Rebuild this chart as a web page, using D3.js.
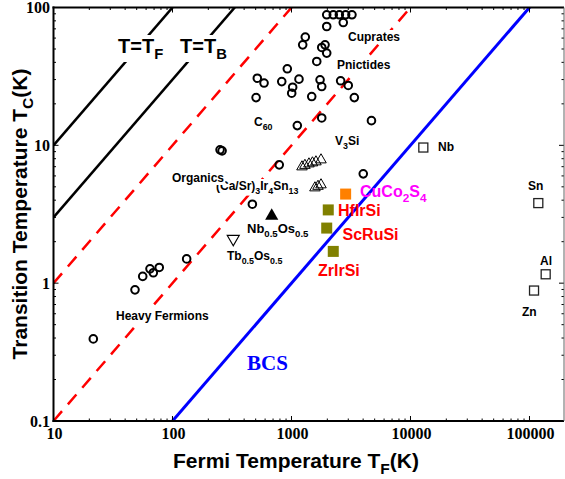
<!DOCTYPE html>
<html>
<head>
<meta charset="utf-8">
<title>Uemura plot</title>
<script src="https://cdnjs.cloudflare.com/ajax/libs/d3/7.8.5/d3.min.js"></script>
<style>
  body { margin: 0; background: #fff; }
  svg { display: block; }
  .lbl { font-family: "Liberation Sans", Arial, sans-serif; font-weight: bold; }
  .num { font-family: "Liberation Serif", "Times New Roman", serif; font-weight: bold; font-size: 16px; }
</style>
</head>
<body>
<svg id="chart" width="565" height="479"></svg>
<script>
// [T_F (K), T_c (K)]
var openCircles = [
  [1977, 88.5], [2244, 88.5], [2524, 88.5], [2851, 88.5], [3221, 88.5],
  [2723, 77.8], [1977, 72.8], [1306, 61], [1242, 53.6], [1914, 53.6],
  [1795, 51.3], [1977, 46.7], [1630, 40.6], [922, 35.9], [516, 30.7],
  [588, 28.3], [828, 29], [1156, 30.2], [1023, 26.4], [1004, 23.9],
  [1738, 29.9], [1795, 26.7], [2588, 29.4], [2999, 27.2], [1479, 22.6],
  [504, 22.2], [3373, 22.2], [1795, 15.8], [1119, 13.9], [4699, 15.1],
  [251, 9.28], [261, 9.12], [789, 7.22], [4009, 6.21], [469, 3.74],
  [131.5, 1.5], [77.4, 1.3], [69, 1.19], [64.7, 1.27], [56.2, 1.12],
  [48.4, 0.894], [21.6, 0.394]
];
var openTriangles = [
  [1225, 7.10], [1297, 7.28], [1402, 7.46], [1500, 7.59], [1605, 7.72], [1770, 7.98],
  [1574, 5.00], [1670, 5.13], [1770, 5.26]
];
var nbOs = [[682, 3.13]];
var tbOs = [[324, 2.06]];
var cuCo2S4 = [[2851, 4.43]];
var silicides = [[2037, 3.40], [1977, 2.51], [2244, 1.70]];
var elements = [[12820, 9.64], [118600, 3.81], [136800, 1.16], [109200, 0.884]];

// T_c / T_F ratios of the guide lines
var lineT_F = 1, lineT_B = 0.3, dashRatios = [0.1, 0.01], bcsRatio = 0.001;

var xTicks = [10, 100, 1000, 10000, 100000];
var yTicks = [0.1, 1, 10, 100];

var svg = d3.select('#chart');
var L = 53.5, R = 564, T = 7.5, B = 421;

var x = d3.scaleLog().domain([10, 195000]).range([L, R]);
var y = d3.scaleLog().domain([0.1, 100]).range([B, T]);

svg.append('clipPath').attr('id', 'clip')
  .append('rect').attr('x', L).attr('y', T).attr('width', R - L).attr('height', B - T);

var plot = svg.append('g').attr('clip-path', 'url(#clip)');

function guide(k, color, width, dash) {
  var d = x.domain();
  plot.append('line')
    .attr('x1', x(d[0])).attr('y1', y(d[0] * k))
    .attr('x2', x(d[1])).attr('y2', y(d[1] * k))
    .attr('stroke', color).attr('stroke-width', width)
    .attr('stroke-dasharray', dash || null);
}
guide(lineT_F, '#000', 2.5);
guide(lineT_B, '#000', 2.5);
dashRatios.forEach(function(k) { guide(k, '#ff0000', 2.5, '13,9'); });
guide(bcsRatio, '#0000ff', 3);

// ticks and frame
var minorX = [], minorY = [];
[10, 100, 1000, 10000, 100000].forEach(function(p) {
  for (var i = 2; i <= 9; i++) if (p * i <= x.domain()[1]) minorX.push(p * i);
});
[0.1, 1, 10].forEach(function(p) {
  for (var i = 2; i <= 9; i++) minorY.push(p * i);
});

var ax = svg.append('g').attr('stroke', '#000');
function tickX(v, len) {
  ax.append('line').attr('x1', x(v)).attr('x2', x(v)).attr('y1', B).attr('y2', B - len).attr('stroke-width', 1);
  ax.append('line').attr('x1', x(v)).attr('x2', x(v)).attr('y1', T).attr('y2', T + len).attr('stroke-width', 1);
}
function tickY(v, len) {
  ax.append('line').attr('y1', y(v)).attr('y2', y(v)).attr('x1', L).attr('x2', L + len).attr('stroke-width', 1);
  ax.append('line').attr('y1', y(v)).attr('y2', y(v)).attr('x1', R).attr('x2', R - len).attr('stroke-width', 1);
}
xTicks.forEach(function(v) { tickX(v, 5); });
minorX.forEach(function(v) { tickX(v, 2.5); });
yTicks.forEach(function(v) { tickY(v, 5); });
minorY.forEach(function(v) { tickY(v, 2.5); });

ax.append('line').attr('x1', L).attr('x2', L).attr('y1', T - 1).attr('y2', B + 1).attr('stroke-width', 2);
ax.append('line').attr('x1', L - 1).attr('x2', R).attr('y1', B).attr('y2', B).attr('stroke-width', 2);
ax.append('line').attr('x1', L - 1).attr('x2', R).attr('y1', T).attr('y2', T).attr('stroke-width', 2);
ax.append('line').attr('x1', R).attr('x2', R).attr('y1', T).attr('y2', B).attr('stroke-width', 1).attr('stroke', '#666');

xTicks.forEach(function(v) {
  svg.append('text').attr('class', 'num').attr('x', x(v) + 1).attr('y', 439)
    .attr('text-anchor', 'middle').text(v);
});
yTicks.forEach(function(v) {
  svg.append('text').attr('class', 'num').attr('x', 50).attr('y', y(v) + 5.5)
    .attr('text-anchor', 'end').text(v);
});

// text with subscripts: parts = [[str, isSub], ...]
function rich(parent, px, py, parts, size, color, bg) {
  var g = parent.append('g');
  var t = g.append('text').attr('class', 'lbl').attr('x', px).attr('y', py)
    .attr('font-size', size).attr('fill', color || '#000');
  var down = false;
  parts.forEach(function(p) {
    var s = t.append('tspan').text(p[0]);
    if (p[1] && !down) { s.attr('dy', size * 0.3).attr('font-size', size * 0.74); down = true; }
    else if (p[1]) { s.attr('font-size', size * 0.74); }
    else if (down) { s.attr('dy', -size * 0.3); down = false; }
  });
  if (bg) {
    var b = t.node().getBBox();
    g.insert('rect', 'text').attr('x', b.x - 1).attr('y', b.y).attr('width', b.width + 2)
      .attr('height', b.height).attr('fill', '#fff');
  }
  return t;
}

var ann = svg.append('g');
rich(ann, 118, 53, [['T=T'], ['F', 1]], 20, '#000', true);
rich(ann, 180, 53, [['T=T'], ['B', 1]], 20, '#000', true);
rich(ann, 348, 41, [['Cuprates']], 12, '#000', true);
rich(ann, 337, 69, [['Pnictides']], 12, '#000', true);
rich(ann, 254, 126, [['C'], ['60', 1]], 12, '#000', true);
rich(ann, 335, 145, [['V'], ['3', 1], ['Si']], 12, '#000', true);
rich(ann, 216, 190, [['(Ca/Sr)'], ['3', 1], ['Ir'], ['4', 1], ['Sn'], ['13', 1]], 12, '#000', true);
rich(ann, 172, 182, [['Organics']], 12, '#000', true);
rich(ann, 247, 233, [['Nb'], ['0.5', 1], ['Os'], ['0.5', 1]], 13, '#000', true);
rich(ann, 227, 260, [['Tb'], ['0.5', 1], ['Os'], ['0.5', 1]], 12, '#000', true);
rich(ann, 116, 320, [['Heavy Fermions']], 12, '#000', true);
rich(ann, 438, 151, [['Nb']], 12, '#000', true);
rich(ann, 528, 190, [['Sn']], 12, '#000', true);
rich(ann, 540, 265, [['Al']], 12, '#000', true);
rich(ann, 522, 316, [['Zn']], 12, '#000', true);
rich(ann, 360, 197, [['CuCo'], ['2', 1], ['S'], ['4', 1]], 16, '#ff00ff');
rich(ann, 338, 216, [['HfIrSi']], 16, '#ff0000');
rich(ann, 342.5, 240, [['ScRuSi']], 16, '#ff0000');
rich(ann, 318, 276, [['ZrIrSi']], 16, '#ff0000');
ann.append('text').attr('x', 247).attr('y', 370)
  .attr('font-family', '"Liberation Serif", "Times New Roman", serif').attr('font-weight', 'bold')
  .attr('font-size', 21).attr('fill', '#0000ff').text('BCS');

// axis titles
rich(svg, 296, 468, [['Fermi Temperature T'], ['F', 1], ['(K)']], 21).attr('text-anchor', 'middle');
var yt = rich(svg, 0, 0, [['Transition Temperature T'], ['C', 1], ['(K)']], 21)
  .attr('text-anchor', 'middle').attr('transform', 'translate(27,214) rotate(-90)');

// markers
var mk = svg.append('g');
mk.selectAll('circle.o').data(openCircles).enter().append('circle')
  .attr('cx', function(d) { return x(d[0]); }).attr('cy', function(d) { return y(d[1]); })
  .attr('r', 3.8).attr('fill', 'none').attr('stroke', '#000').attr('stroke-width', 2);

var triUp = d3.symbol().type(d3.symbolTriangle).size(48);
mk.selectAll('path.tu').data(openTriangles).enter().append('path')
  .attr('d', triUp).attr('transform', function(d) { return 'translate(' + x(d[0]) + ',' + (y(d[1]) + 1) + ')'; })
  .attr('fill', 'none').attr('stroke', '#000').attr('stroke-width', 1);

mk.selectAll('path.nb').data(nbOs).enter().append('path')
  .attr('d', d3.symbol().type(d3.symbolTriangle).size(75))
  .attr('transform', function(d) { return 'translate(' + x(d[0]) + ',' + (y(d[1]) + 1) + ')'; })
  .attr('fill', '#000');

mk.selectAll('path.tb').data(tbOs).enter().append('path')
  .attr('d', d3.symbol().type(d3.symbolTriangle).size(62))
  .attr('transform', function(d) { return 'translate(' + x(d[0]) + ',' + (y(d[1]) - 1) + ') rotate(180)'; })
  .attr('fill', 'none').attr('stroke', '#000').attr('stroke-width', 1.2);

function squares(data, side, fill, stroke) {
  mk.selectAll(null).data(data).enter().append('rect')
    .attr('x', function(d) { return x(d[0]) - side / 2; })
    .attr('y', function(d) { return y(d[1]) - side / 2; })
    .attr('width', side).attr('height', side)
    .attr('fill', fill).attr('stroke', stroke || 'none').attr('stroke-width', 1.3);
}
squares(cuCo2S4, 11, '#ff8000');
squares(silicides, 11, '#808000');
squares(elements, 9, 'none', '#222');
</script>
</body>
</html>
